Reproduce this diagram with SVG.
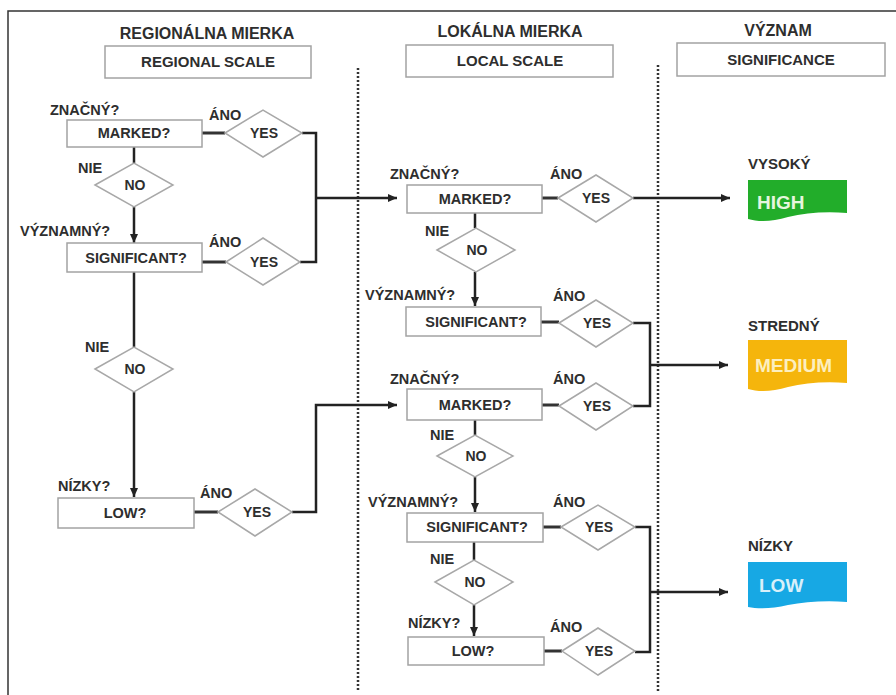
<svg xmlns="http://www.w3.org/2000/svg" width="896" height="695" viewBox="0 0 896 695">
<defs>
<style>
.t{font-family:"Liberation Sans",Arial,sans-serif;font-weight:bold;fill:#2e2e2e}
.h{font-size:16px;text-anchor:middle}
.hb{font-size:15px;text-anchor:middle}
.lb{font-size:14.5px}
.bt{font-size:14.5px;text-anchor:middle}
.dt{font-size:14px;text-anchor:middle}
.rl{font-size:15px}
.ft{font-size:19px}
.box{fill:#fff;stroke:#a3a3a3;stroke-width:1.5}
.dia{fill:#fff;stroke:#a8a8a8;stroke-width:1.5}
.conn{fill:none;stroke:#222;stroke-width:2.5}
.stub{fill:none;stroke:#333;stroke-width:3}
.dot{stroke:#333;stroke-width:2.5;stroke-dasharray:2 2}
</style>
<marker id="arr" markerUnits="userSpaceOnUse" markerWidth="9" markerHeight="8" refX="9" refY="4" orient="auto">
<path d="M0,0 L9,4 L0,8 z" fill="#222"/>
</marker>
</defs>
<rect width="896" height="695" fill="#fff"/>
<rect x="8" y="11" width="900" height="700" fill="none" stroke="#333" stroke-width="1.5"/>
<line class="dot" x1="358" y1="68" x2="358" y2="692"/>
<line class="dot" x1="658" y1="65" x2="658" y2="692"/>

<g id="headers">
<text class="t h" x="207" y="39">REGIONÁLNA MIERKA</text>
<rect class="box" x="105" y="46" width="206" height="32"/>
<text class="t hb" x="208" y="67">REGIONAL SCALE</text>
<text class="t h" x="510" y="37">LOKÁLNA MIERKA</text>
<rect class="box" x="406" y="45" width="207" height="32"/>
<text class="t hb" x="510" y="66">LOCAL SCALE</text>
<text class="t h" x="778" y="36">VÝZNAM</text>
<rect class="box" x="677" y="43" width="208" height="33"/>
<text class="t hb" x="781" y="65">SIGNIFICANCE</text>
</g>

<g id="connectors">
<path class="stub" d="M202,133 H225 M202,262 H226 M194,512 H218 M542,198 H558 M541,322 H559 M542,405 H559 M543,527 H561 M544,651 H562"/>
<path class="conn" d="M302,133 H316 V262 H300"/>
<path class="conn" d="M316,198 H397" marker-end="url(#arr)"/>
<path class="conn" d="M134,147 V163"/>
<path class="conn" d="M134,207 V243" marker-end="url(#arr)"/>
<path class="conn" d="M134,272 V347"/>
<path class="conn" d="M134,392 V497" marker-end="url(#arr)"/>
<path class="conn" d="M292,512 H316 V405 H397" marker-end="url(#arr)"/>
<path class="conn" d="M633,198 H730" marker-end="url(#arr)"/>
<path class="conn" d="M475,213 V228"/>
<path class="conn" d="M475,272 V306" marker-end="url(#arr)"/>
<path class="conn" d="M633,323 H650 V406 H633"/>
<path class="conn" d="M650,365 H728" marker-end="url(#arr)"/>
<path class="conn" d="M475,420 V435"/>
<path class="conn" d="M475,477 V512" marker-end="url(#arr)"/>
<path class="conn" d="M635,527 H650 V652 H635"/>
<path class="conn" d="M650,592 H728" marker-end="url(#arr)"/>
<path class="conn" d="M474,542 V560"/>
<path class="conn" d="M474,605 V636" marker-end="url(#arr)"/>
</g>

<g id="r-marked">
<text class="t lb" x="50" y="115">ZNAČNÝ?</text>
<rect class="box" x="67" y="120" width="135" height="27"/>
<text class="t bt" x="134" y="138">MARKED?</text>
</g>
<g id="r-marked-yes">
<text class="t lb" x="209" y="120">ÁNO</text>
<polygon class="dia" points="225,133 263,110 302,133 263,157"/>
<text class="t dt" x="264" y="138">YES</text>
</g>
<g id="r-marked-no">
<text class="t lb" x="78" y="173">NIE</text>
<polygon class="dia" points="95,185 134,163 173,185 134,207"/>
<text class="t dt" x="135" y="190">NO</text>
</g>
<g id="r-significant">
<text class="t lb" x="20" y="236">VÝZNAMNÝ?</text>
<rect class="box" x="67" y="243" width="135" height="29"/>
<text class="t bt" x="136" y="263">SIGNIFICANT?</text>
</g>
<g id="r-significant-yes">
<text class="t lb" x="209" y="247">ÁNO</text>
<polygon class="dia" points="226,262 263,238 300,262 263,285"/>
<text class="t dt" x="264" y="267">YES</text>
</g>
<g id="r-significant-no">
<text class="t lb" x="85" y="352">NIE</text>
<polygon class="dia" points="95,369 134,347 173,369 134,392"/>
<text class="t dt" x="135" y="374">NO</text>
</g>
<g id="r-low">
<text class="t lb" x="58" y="491">NÍZKY?</text>
<rect class="box" x="58" y="498" width="136" height="30"/>
<text class="t bt" x="125" y="518">LOW?</text>
</g>
<g id="r-low-yes">
<text class="t lb" x="200" y="498">ÁNO</text>
<polygon class="dia" points="218,512 255,489 292,512 255,536"/>
<text class="t dt" x="257" y="517">YES</text>
</g>

<g id="l-marked1">
<text class="t lb" x="390" y="179">ZNAČNÝ?</text>
<rect class="box" x="407" y="185" width="135" height="28"/>
<text class="t bt" x="475" y="204">MARKED?</text>
</g>
<g id="l-marked1-yes">
<text class="t lb" x="550" y="179">ÁNO</text>
<polygon class="dia" points="558,198 596,175 633,198 596,222"/>
<text class="t dt" x="596" y="203">YES</text>
</g>
<g id="l-marked1-no">
<text class="t lb" x="425" y="236">NIE</text>
<polygon class="dia" points="437,250 476,228 515,250 476,272"/>
<text class="t dt" x="477" y="255">NO</text>
</g>
<g id="l-significant1">
<text class="t lb" x="365" y="300">VÝZNAMNÝ?</text>
<rect class="box" x="406" y="307" width="135" height="29"/>
<text class="t bt" x="476" y="327">SIGNIFICANT?</text>
</g>
<g id="l-significant1-yes">
<text class="t lb" x="553" y="301">ÁNO</text>
<polygon class="dia" points="559,323 596,300 633,323 596,347"/>
<text class="t dt" x="597" y="328">YES</text>
</g>
<g id="l-marked2">
<text class="t lb" x="390" y="384">ZNAČNÝ?</text>
<rect class="box" x="407" y="389" width="135" height="31"/>
<text class="t bt" x="475" y="410">MARKED?</text>
</g>
<g id="l-marked2-yes">
<text class="t lb" x="553" y="384">ÁNO</text>
<polygon class="dia" points="559,406 596,383 633,406 596,430"/>
<text class="t dt" x="597" y="411">YES</text>
</g>
<g id="l-marked2-no">
<text class="t lb" x="430" y="440">NIE</text>
<polygon class="dia" points="437,456 475,435 513,456 475,477"/>
<text class="t dt" x="476" y="461">NO</text>
</g>
<g id="l-significant2">
<text class="t lb" x="368" y="507">VÝZNAMNÝ?</text>
<rect class="box" x="407" y="513" width="136" height="29"/>
<text class="t bt" x="477" y="532">SIGNIFICANT?</text>
</g>
<g id="l-significant2-yes">
<text class="t lb" x="553" y="507">ÁNO</text>
<polygon class="dia" points="561,527 598,505 635,527 598,550"/>
<text class="t dt" x="599" y="532">YES</text>
</g>
<g id="l-significant2-no">
<text class="t lb" x="430" y="564">NIE</text>
<polygon class="dia" points="435,582 474,560 513,582 474,605"/>
<text class="t dt" x="475" y="587">NO</text>
</g>
<g id="l-low">
<text class="t lb" x="408" y="628">NÍZKY?</text>
<rect class="box" x="408" y="637" width="136" height="28"/>
<text class="t bt" x="473" y="656">LOW?</text>
</g>
<g id="l-low-yes">
<text class="t lb" x="550" y="632">ÁNO</text>
<polygon class="dia" points="562,651 598,628 635,651 598,675"/>
<text class="t dt" x="599" y="656">YES</text>
</g>

<g id="sig-high">
<text class="t rl" x="748" y="169">VYSOKÝ</text>
<path d="M748,180 H847 V213 C825,211 805,213 788,217 C772,222 758,222 748,219 Z" fill="#22ad2a"/>
<text class="t ft" x="757" y="209" style="fill:#e6f6de">HIGH</text>
</g>
<g id="sig-medium">
<text class="t rl" x="748" y="331">STREDNÝ</text>
<path d="M748,340 H847 V383 C825,381 805,383 788,387 C772,392 758,392 748,389 Z" fill="#f5b50c"/>
<text class="t ft" x="755" y="372" style="fill:#fcefc0">MEDIUM</text>
</g>
<g id="sig-low">
<text class="t rl" x="748" y="551">NÍZKY</text>
<path d="M748,562 H847 V602 C825,600 805,602 788,605 C772,609 758,609 748,607 Z" fill="#17a8e4"/>
<text class="t ft" x="759" y="592" style="fill:#d8f0fa">LOW</text>
</g>
</svg>
